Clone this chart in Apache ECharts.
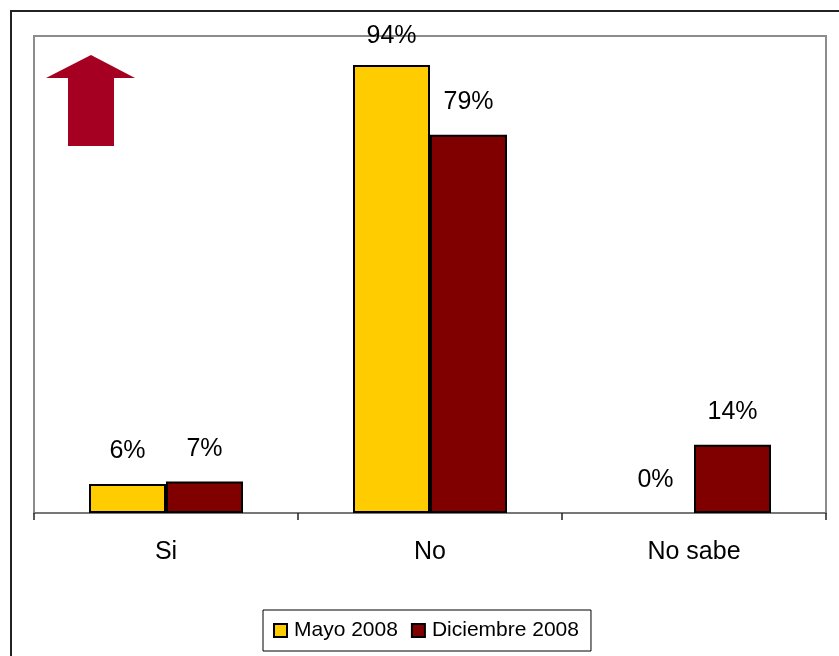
<!DOCTYPE html>
<html>
<head>
<meta charset="utf-8">
<script src="https://cdn.jsdelivr.net/npm/echarts@6/dist/echarts.min.js"></script>
<style>
html,body{margin:0;padding:0;background:#fff;}
#c{width:839px;height:656px;}
</style>
</head>
<body>
<div id="c"></div>
<script>
var categories = ['Si', 'No', 'No sabe'];
var mayo2008 = [6.1, 93.9, 0];
var diciembre2008 = [6.6, 79.3, 14.3];
var seriesNames = ['Mayo 2008', 'Diciembre 2008'];

var chart = echarts.init(document.getElementById('c'));
var FONT = '"Liberation Sans", Arial, sans-serif';

function labelCfg(dist) {
  return {
    show: true,
    position: 'top',
    distance: dist,
    fontFamily: FONT,
    fontSize: 25,
    color: '#000',
    formatter: function (p) { return Math.round(p.value) + '%'; }
  };
}

function toItems(arr) {
  return arr.map(function (v) {
    var d = { value: v };
    if (v >= 90) d.label = { distance: 16 };
    if (v === 0) d.itemStyle = { borderWidth: 0 };
    return d;
  });
}

chart.setOption({
  animation: false,
  backgroundColor: '#fff',
  grid: {
    left: 34, top: 36, right: 13, bottom: 143,
    show: true, borderColor: '#8c8c8c', borderWidth: 2,
    containLabel: false
  },
  xAxis: {
    type: 'category',
    data: categories,
    axisLine: { lineStyle: { color: '#707070', width: 1.5 } },
    axisTick: { show: true, length: 7, lineStyle: { color: '#222', width: 1.5 } },
    axisLabel: { margin: 27, fontFamily: FONT, fontSize: 25, color: '#000' }
  },
  yAxis: {
    type: 'value',
    min: 0, max: 100,
    axisLine: { show: false },
    axisTick: { show: false },
    axisLabel: { show: false },
    splitLine: { show: false }
  },
  legend: {
    data: seriesNames,
    left: 263, top: 610,
    orient: 'horizontal',
    icon: 'rect',
    itemWidth: 13, itemHeight: 13,
    itemGap: 13,
    padding: [10, 12, 10, 10],
    borderColor: '#000', borderWidth: 1,
    backgroundColor: '#fff',
    textStyle: { fontFamily: FONT, fontSize: 21, color: '#000', padding: [0, 0, 0, 2] }
  },
  series: [
    {
      name: seriesNames[0], type: 'bar',
      data: toItems(mayo2008),
      barWidth: 77, barGap: '0%',
      itemStyle: { color: '#FFCC00', borderColor: '#000', borderWidth: 2 },
      label: labelCfg(20)
    },
    {
      name: seriesNames[1], type: 'bar',
      data: toItems(diciembre2008),
      barWidth: 77, barGap: '0%',
      itemStyle: { color: '#800000', borderColor: '#000', borderWidth: 2 },
      label: labelCfg(20)
    }
  ],
  graphic: [
    {
      type: 'rect', silent: true,
      shape: { x: 11, y: 11, width: 860, height: 700 },
      style: { fill: null, stroke: '#222', lineWidth: 2 }
    },
    {
      type: 'polygon', silent: true,
      shape: { points: [[91, 55], [135, 78], [114, 78], [114, 146], [68, 146], [68, 78], [46, 78]] },
      style: { fill: '#A50021' }
    }
  ]
});
</script>
</body>
</html>
